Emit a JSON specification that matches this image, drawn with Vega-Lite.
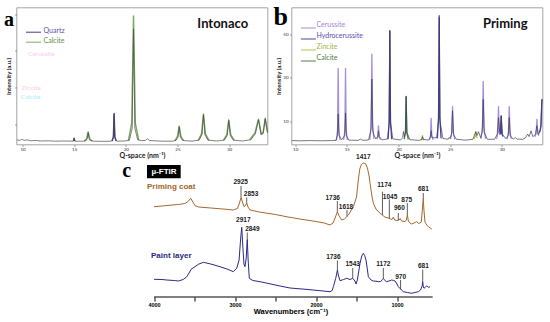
{
"$schema": "https://vega.github.io/schema/vega-lite/v6.json",
"background": "white",
"padding": {"left": 3.5, "top": 3.5, "right": 0, "bottom": 0},
"spacing": -5.5,
"config": {"view": {"stroke": null}, "font": "Lato"},
"resolve": {"scale": {"color": "independent", "x": "independent", "y": "independent"}, "legend": {"color": "independent"}},
"datasets": {
"xrdA": [
{"q":9.45,"i":1.8},{"q":9.7,"i":1.4},{"q":9.9,"i":1.9},{"q":10.2,"i":1.5},{"q":10.5,"i":1.7},{"q":10.8,"i":1.2},{"q":11.2,"i":1.4},{"q":11.8,"i":1.1},{"q":12.5,"i":1.2},{"q":13.2,"i":1.0},{"q":14.0,"i":1.1},{"q":14.9,"i":1.0},{"q":15.0,"i":2.5},{"q":15.1,"i":1.0},{"q":15.9,"i":1.0},{"q":16.16,"i":1.4},{"q":16.28,"i":2.5},{"q":16.36,"i":5.7},{"q":16.44,"i":2.5},{"q":16.56,"i":1.4},{"q":16.9,"i":1.0},{"q":17.8,"i":0.9},{"q":18.6,"i":1.0},{"q":18.8,"i":2.8},{"q":18.87,"i":15.6},{"q":18.94,"i":2.8},{"q":19.14,"i":1.0},{"q":19.9,"i":1.1},{"q":20.35,"i":1.5},{"q":20.62,"i":8},{"q":20.75,"i":62},{"q":20.88,"i":8},{"q":21.15,"i":1.8},{"q":21.5,"i":1.3},{"q":21.9,"i":1.4},{"q":22.1,"i":2.3},{"q":22.3,"i":1.4},{"q":22.8,"i":1.2},{"q":23.6,"i":1.0},{"q":24.5,"i":1.0},{"q":24.85,"i":1.4},{"q":25.06,"i":3.2},{"q":25.17,"i":8.8},{"q":25.28,"i":3.2},{"q":25.5,"i":1.4},{"q":26.4,"i":1.0},{"q":27.1,"i":1.6},{"q":27.38,"i":4.6},{"q":27.52,"i":15.3},{"q":27.66,"i":4.6},{"q":27.95,"i":1.6},{"q":28.8,"i":1.1},{"q":29.55,"i":1.6},{"q":29.83,"i":4.2},{"q":29.97,"i":12.2},{"q":30.11,"i":4.2},{"q":30.4,"i":1.6},{"q":31.3,"i":1.1},{"q":32.1,"i":1.8},{"q":32.55,"i":5},{"q":32.85,"i":12.6},{"q":33.1,"i":4.5},{"q":33.3,"i":5.2},{"q":33.5,"i":13.1},{"q":33.72,"i":5.5}
],
"phaseA": [
{"q":14.95,"i":1,"p":"Quartz","k":"q1"},{"q":15.0,"i":2.6,"p":"Quartz","k":"q1"},{"q":15.05,"i":1,"p":"Quartz","k":"q1"},
{"q":18.68,"i":1,"p":"Quartz","k":"q2"},{"q":18.8,"i":3.5,"p":"Quartz","k":"q2"},{"q":18.87,"i":16,"p":"Quartz","k":"q2"},{"q":18.94,"i":3.5,"p":"Quartz","k":"q2"},{"q":19.06,"i":1,"p":"Quartz","k":"q2"},
{"q":15.96,"i":1,"p":"Calcite","k":"c1"},{"q":16.2,"i":2.2,"p":"Calcite","k":"c1"},{"q":16.36,"i":6,"p":"Calcite","k":"c1"},{"q":16.52,"i":2.2,"p":"Calcite","k":"c1"},{"q":16.76,"i":1,"p":"Calcite","k":"c1"},
{"q":20.25,"i":1.3,"p":"Calcite","k":"c2"},{"q":20.58,"i":11,"p":"Calcite","k":"c2"},{"q":20.75,"i":69,"p":"Calcite","k":"c2"},{"q":20.92,"i":11,"p":"Calcite","k":"c2"},{"q":21.25,"i":1.6,"p":"Calcite","k":"c2"},
{"q":24.75,"i":1.2,"p":"Calcite","k":"c3"},{"q":25.0,"i":3.6,"p":"Calcite","k":"c3"},{"q":25.17,"i":9.2,"p":"Calcite","k":"c3"},{"q":25.34,"i":3.6,"p":"Calcite","k":"c3"},{"q":25.6,"i":1.3,"p":"Calcite","k":"c3"},
{"q":27.0,"i":1.4,"p":"Calcite","k":"c4"},{"q":27.33,"i":5,"p":"Calcite","k":"c4"},{"q":27.52,"i":15.8,"p":"Calcite","k":"c4"},{"q":27.71,"i":5,"p":"Calcite","k":"c4"},{"q":28.05,"i":1.4,"p":"Calcite","k":"c4"},
{"q":29.45,"i":1.4,"p":"Calcite","k":"c5"},{"q":29.78,"i":4.6,"p":"Calcite","k":"c5"},{"q":29.97,"i":12.6,"p":"Calcite","k":"c5"},{"q":30.16,"i":4.6,"p":"Calcite","k":"c5"},{"q":30.5,"i":1.4,"p":"Calcite","k":"c5"},
{"q":32.0,"i":1.8,"p":"Calcite","k":"c6"},{"q":32.5,"i":5.5,"p":"Calcite","k":"c6"},{"q":32.85,"i":13,"p":"Calcite","k":"c6"},{"q":33.12,"i":5,"p":"Calcite","k":"c6"},{"q":33.3,"i":5.6,"p":"Calcite","k":"c6"},{"q":33.5,"i":13.5,"p":"Calcite","k":"c6"},{"q":33.72,"i":6,"p":"Calcite","k":"c6"}
],
"ghostPink": [{"q":10.55,"i":48.6,"t":"Cerussite"},{"q":9.9,"i":30.1,"t":"Zincite"}],
"ghostCyan": [{"q":9.84,"i":25.2,"t":"Calcite"}],
"xrdB": [
{"q":9.7,"i":1.2},{"q":10.5,"i":1.1},{"q":11.5,"i":1.2},{"q":12.5,"i":1.1},{"q":13.5,"i":1.2},{"q":13.95,"i":1.3},{"q":14.08,"i":3.5},{"q":14.16,"i":13.4},{"q":14.24,"i":3.5},{"q":14.5,"i":1.6},{"q":14.79,"i":3.5},{"q":14.87,"i":13.9},{"q":14.95,"i":3.5},{"q":15.2,"i":1.4},{"q":16.1,"i":1.3},{"q":16.32,"i":1.9},{"q":16.55,"i":1.3},{"q":17.1,"i":1.5},{"q":17.33,"i":6},{"q":17.42,"i":29.5},{"q":17.51,"i":6},{"q":17.6,"i":4},{"q":17.8,"i":2},{"q":17.98,"i":3},{"q":18.06,"i":5.7},{"q":18.14,"i":3},{"q":18.4,"i":1.5},{"q":18.95,"i":2},{"q":19.08,"i":9},{"q":19.16,"i":51.7},{"q":19.24,"i":9},{"q":19.45,"i":2},{"q":20.2,"i":1.5},{"q":20.4,"i":2.5},{"q":20.48,"i":5.4},{"q":20.56,"i":3},{"q":20.66,"i":5},{"q":20.74,"i":21.5},{"q":20.82,"i":5},{"q":21.1,"i":1.6},{"q":22.0,"i":1.3},{"q":22.25,"i":1.8},{"q":22.32,"i":3},{"q":22.39,"i":1.8},{"q":22.9,"i":1.4},{"q":23.08,"i":2.5},{"q":23.16,"i":5.7},{"q":23.24,"i":2.5},{"q":23.7,"i":2.5},{"q":23.86,"i":10},{"q":23.94,"i":57.8},{"q":24.02,"i":10},{"q":24.3,"i":2.2},{"q":24.8,"i":1.8},{"q":24.9,"i":2.6},{"q":25.0,"i":2.2},{"q":25.13,"i":4},{"q":25.23,"i":14.9},{"q":25.33,"i":4},{"q":25.6,"i":1.8},{"q":26.5,"i":1.4},{"q":27.2,"i":1.8},{"q":27.48,"i":5.3},{"q":27.6,"i":3.5},{"q":27.74,"i":5.3},{"q":27.95,"i":2.5},{"q":28.1,"i":5},{"q":28.2,"i":20.2},{"q":28.3,"i":5},{"q":28.6,"i":1.8},{"q":29.3,"i":1.8},{"q":29.55,"i":4},{"q":29.68,"i":11.8},{"q":29.8,"i":5},{"q":29.94,"i":12.6},{"q":30.08,"i":4},{"q":30.4,"i":2},{"q":30.62,"i":3.5},{"q":30.72,"i":11.8},{"q":30.82,"i":3.5},{"q":31.1,"i":1.8},{"q":31.3,"i":2.6},{"q":31.5,"i":1.8},{"q":31.74,"i":1.9},{"q":32.0,"i":1.7},{"q":32.3,"i":2.5},{"q":32.5,"i":4.2},{"q":32.65,"i":3},{"q":32.83,"i":5.7},{"q":33.0,"i":3},{"q":33.25,"i":4},{"q":33.4,"i":8},{"q":33.55,"i":4},{"q":33.75,"i":6},{"q":33.88,"i":20},{"q":33.94,"i":20}
],
"phaseB": [
{"q":13.98,"i":1.3,"p":"Cerussite","k":"e1"},{"q":14.1,"i":6,"p":"Cerussite","k":"e1"},{"q":14.16,"i":34.4,"p":"Cerussite","k":"e1"},{"q":14.22,"i":6,"p":"Cerussite","k":"e1"},{"q":14.34,"i":1.4,"p":"Cerussite","k":"e1"},
{"q":14.69,"i":1.4,"p":"Cerussite","k":"e2"},{"q":14.81,"i":6,"p":"Cerussite","k":"e2"},{"q":14.87,"i":34.4,"p":"Cerussite","k":"e2"},{"q":14.93,"i":6,"p":"Cerussite","k":"e2"},{"q":15.05,"i":1.4,"p":"Cerussite","k":"e2"},
{"q":17.22,"i":1.5,"p":"Cerussite","k":"e3"},{"q":17.35,"i":8,"p":"Cerussite","k":"e3"},{"q":17.42,"i":40.9,"p":"Cerussite","k":"e3"},{"q":17.49,"i":8,"p":"Cerussite","k":"e3"},{"q":17.62,"i":2,"p":"Cerussite","k":"e3"},
{"q":17.9,"i":1.8,"p":"Cerussite","k":"e4"},{"q":18.0,"i":3,"p":"Cerussite","k":"e4"},{"q":18.06,"i":8,"p":"Cerussite","k":"e4"},{"q":18.12,"i":3,"p":"Cerussite","k":"e4"},{"q":18.25,"i":1.6,"p":"Cerussite","k":"e4"},
{"q":22.98,"i":1.5,"p":"Cerussite","k":"e5"},{"q":23.1,"i":3.5,"p":"Cerussite","k":"e5"},{"q":23.16,"i":11.4,"p":"Cerussite","k":"e5"},{"q":23.22,"i":3.5,"p":"Cerussite","k":"e5"},{"q":23.35,"i":1.5,"p":"Cerussite","k":"e5"},
{"q":25.03,"i":2,"p":"Cerussite","k":"e6"},{"q":25.16,"i":5,"p":"Cerussite","k":"e6"},{"q":25.23,"i":16.8,"p":"Cerussite","k":"e6"},{"q":25.3,"i":5,"p":"Cerussite","k":"e6"},{"q":25.45,"i":1.8,"p":"Cerussite","k":"e6"},
{"q":27.98,"i":2,"p":"Cerussite","k":"e7"},{"q":28.13,"i":7,"p":"Cerussite","k":"e7"},{"q":28.2,"i":28.4,"p":"Cerussite","k":"e7"},{"q":28.27,"i":7,"p":"Cerussite","k":"e7"},{"q":28.42,"i":2,"p":"Cerussite","k":"e7"},
{"q":29.5,"i":2,"p":"Cerussite","k":"e8"},{"q":29.62,"i":5,"p":"Cerussite","k":"e8"},{"q":29.68,"i":16.8,"p":"Cerussite","k":"e8"},{"q":29.74,"i":5,"p":"Cerussite","k":"e8"},{"q":29.86,"i":4,"p":"Cerussite","k":"e8"},
{"q":30.52,"i":2,"p":"Cerussite","k":"e9"},{"q":30.65,"i":5,"p":"Cerussite","k":"e9"},{"q":30.72,"i":16.8,"p":"Cerussite","k":"e9"},{"q":30.79,"i":5,"p":"Cerussite","k":"e9"},{"q":30.92,"i":2,"p":"Cerussite","k":"e9"},
{"q":33.2,"i":3,"p":"Cerussite","k":"e10"},{"q":33.33,"i":4.5,"p":"Cerussite","k":"e10"},{"q":33.4,"i":11,"p":"Cerussite","k":"e10"},{"q":33.47,"i":4.5,"p":"Cerussite","k":"e10"},{"q":33.6,"i":3.5,"p":"Cerussite","k":"e10"},
{"q":18.98,"i":1.8,"p":"Hydrocerussite","k":"h1"},{"q":19.1,"i":10,"p":"Hydrocerussite","k":"h1"},{"q":19.16,"i":51.7,"p":"Hydrocerussite","k":"h1"},{"q":19.22,"i":10,"p":"Hydrocerussite","k":"h1"},{"q":19.34,"i":1.8,"p":"Hydrocerussite","k":"h1"},
{"q":23.76,"i":2.2,"p":"Hydrocerussite","k":"h2"},{"q":23.88,"i":12,"p":"Hydrocerussite","k":"h2"},{"q":23.94,"i":58.6,"p":"Hydrocerussite","k":"h2"},{"q":24.0,"i":12,"p":"Hydrocerussite","k":"h2"},{"q":24.12,"i":2.2,"p":"Hydrocerussite","k":"h2"},
{"q":29.78,"i":4,"p":"Hydrocerussite","k":"h3"},{"q":29.88,"i":4.5,"p":"Hydrocerussite","k":"h3"},{"q":29.94,"i":12.6,"p":"Hydrocerussite","k":"h3"},{"q":30.0,"i":4.5,"p":"Hydrocerussite","k":"h3"},{"q":30.1,"i":3,"p":"Hydrocerussite","k":"h3"},
{"q":33.65,"i":5,"p":"Hydrocerussite","k":"h4"},{"q":33.8,"i":8,"p":"Hydrocerussite","k":"h4"},{"q":33.88,"i":20,"p":"Hydrocerussite","k":"h4"},{"q":33.94,"i":20,"p":"Hydrocerussite","k":"h4"},
{"q":22.15,"i":1.3,"p":"Zincite","k":"z1"},{"q":22.27,"i":1.8,"p":"Zincite","k":"z1"},{"q":22.32,"i":3.5,"p":"Zincite","k":"z1"},{"q":22.37,"i":1.8,"p":"Zincite","k":"z1"},{"q":22.5,"i":1.3,"p":"Zincite","k":"z1"},
{"q":27.3,"i":1.8,"p":"Zincite","k":"z2"},{"q":27.42,"i":3,"p":"Zincite","k":"z2"},{"q":27.48,"i":5.3,"p":"Zincite","k":"z2"},{"q":27.54,"i":3,"p":"Zincite","k":"z2"},{"q":27.66,"i":2.5,"p":"Zincite","k":"z2"},
{"q":20.55,"i":1.8,"p":"Calcite","k":"k1"},{"q":20.68,"i":5,"p":"Calcite","k":"k1"},{"q":20.74,"i":21.5,"p":"Calcite","k":"k1"},{"q":20.8,"i":5,"p":"Calcite","k":"k1"},{"q":20.95,"i":1.7,"p":"Calcite","k":"k1"}
],
"ftir": [
{"wn":4000,"ab":93.3,"s":"Priming coat"},{"wn":3900,"ab":94,"s":"Priming coat"},{"wn":3800,"ab":94.8,"s":"Priming coat"},{"wn":3700,"ab":95.5,"s":"Priming coat"},{"wn":3620,"ab":96.5,"s":"Priming coat"},{"wn":3580,"ab":98.5,"s":"Priming coat"},{"wn":3547,"ab":101.7,"s":"Priming coat"},{"wn":3520,"ab":98,"s":"Priming coat"},{"wn":3494,"ab":94.3,"s":"Priming coat"},{"wn":3450,"ab":93,"s":"Priming coat"},{"wn":3300,"ab":92,"s":"Priming coat"},{"wn":3150,"ab":91,"s":"Priming coat"},{"wn":3021,"ab":90,"s":"Priming coat"},{"wn":2970,"ab":91.5,"s":"Priming coat"},{"wn":2945,"ab":97,"s":"Priming coat"},{"wn":2926,"ab":102.7,"s":"Priming coat"},{"wn":2905,"ab":97,"s":"Priming coat"},{"wn":2889,"ab":93.3,"s":"Priming coat"},{"wn":2870,"ab":94.5,"s":"Priming coat"},{"wn":2856,"ab":97.3,"s":"Priming coat"},{"wn":2840,"ab":93,"s":"Priming coat"},{"wn":2815,"ab":90,"s":"Priming coat"},{"wn":2700,"ab":88,"s":"Priming coat"},{"wn":2500,"ab":85.5,"s":"Priming coat"},{"wn":2346,"ab":83,"s":"Priming coat"},{"wn":2200,"ab":81,"s":"Priming coat"},{"wn":2000,"ab":78.5,"s":"Priming coat"},{"wn":1900,"ab":77,"s":"Priming coat"},{"wn":1827,"ab":75,"s":"Priming coat"},{"wn":1790,"ab":77,"s":"Priming coat"},{"wn":1760,"ab":83,"s":"Priming coat"},{"wn":1737,"ab":88.3,"s":"Priming coat"},{"wn":1715,"ab":84,"s":"Priming coat"},{"wn":1683,"ab":80,"s":"Priming coat"},{"wn":1650,"ab":81,"s":"Priming coat"},{"wn":1621,"ab":83.3,"s":"Priming coat"},{"wn":1600,"ab":85,"s":"Priming coat"},{"wn":1539,"ab":93.3,"s":"Priming coat"},{"wn":1500,"ab":103,"s":"Priming coat"},{"wn":1478,"ab":120,"s":"Priming coat"},{"wn":1460,"ab":131,"s":"Priming coat"},{"wn":1440,"ab":135.5,"s":"Priming coat"},{"wn":1417,"ab":137,"s":"Priming coat"},{"wn":1390,"ab":136.5,"s":"Priming coat"},{"wn":1365,"ab":132,"s":"Priming coat"},{"wn":1345,"ab":124,"s":"Priming coat"},{"wn":1333,"ab":116.7,"s":"Priming coat"},{"wn":1310,"ab":104,"s":"Priming coat"},{"wn":1292,"ab":96.7,"s":"Priming coat"},{"wn":1260,"ab":91,"s":"Priming coat"},{"wn":1230,"ab":88.3,"s":"Priming coat"},{"wn":1190,"ab":85.5,"s":"Priming coat"},{"wn":1174,"ab":84.5,"s":"Priming coat"},{"wn":1150,"ab":83,"s":"Priming coat"},{"wn":1110,"ab":82,"s":"Priming coat"},{"wn":1080,"ab":81,"s":"Priming coat"},{"wn":1060,"ab":80.7,"s":"Priming coat"},{"wn":1045,"ab":83,"s":"Priming coat"},{"wn":1030,"ab":80,"s":"Priming coat"},{"wn":1000,"ab":79.5,"s":"Priming coat"},{"wn":975,"ab":80,"s":"Priming coat"},{"wn":960,"ab":81.5,"s":"Priming coat"},{"wn":945,"ab":79,"s":"Priming coat"},{"wn":900,"ab":78.5,"s":"Priming coat"},{"wn":885,"ab":80,"s":"Priming coat"},{"wn":872,"ab":85,"s":"Priming coat"},{"wn":860,"ab":79,"s":"Priming coat"},{"wn":840,"ab":77,"s":"Priming coat"},{"wn":822,"ab":76,"s":"Priming coat"},{"wn":790,"ab":77,"s":"Priming coat"},{"wn":757,"ab":78.3,"s":"Priming coat"},{"wn":730,"ab":76.5,"s":"Priming coat"},{"wn":700,"ab":78,"s":"Priming coat"},{"wn":688,"ab":90,"s":"Priming coat"},{"wn":676,"ab":101.7,"s":"Priming coat"},{"wn":668,"ab":90,"s":"Priming coat"},{"wn":655,"ab":78,"s":"Priming coat"},{"wn":633,"ab":75,"s":"Priming coat"},{"wn":610,"ab":73,"s":"Priming coat"},{"wn":584,"ab":71.7,"s":"Priming coat"},{"wn":570,"ab":71,"s":"Priming coat"},
{"wn":4000,"ab":20.7,"s":"Paint layer"},{"wn":3900,"ab":20.5,"s":"Paint layer"},{"wn":3843,"ab":20,"s":"Paint layer"},{"wn":3750,"ab":19.5,"s":"Paint layer"},{"wn":3700,"ab":19,"s":"Paint layer"},{"wn":3640,"ab":20.5,"s":"Paint layer"},{"wn":3596,"ab":23.3,"s":"Paint layer"},{"wn":3560,"ab":28,"s":"Paint layer"},{"wn":3543,"ab":30.7,"s":"Paint layer"},{"wn":3506,"ab":32.7,"s":"Paint layer"},{"wn":3453,"ab":35.7,"s":"Paint layer"},{"wn":3391,"ab":37.7,"s":"Paint layer"},{"wn":3300,"ab":36,"s":"Paint layer"},{"wn":3185,"ab":33.3,"s":"Paint layer"},{"wn":3100,"ab":31,"s":"Paint layer"},{"wn":3021,"ab":28.3,"s":"Paint layer"},{"wn":2979,"ab":31.7,"s":"Paint layer"},{"wn":2950,"ab":40,"s":"Paint layer"},{"wn":2930,"ab":62,"s":"Paint layer"},{"wn":2917,"ab":72.7,"s":"Paint layer"},{"wn":2905,"ab":55,"s":"Paint layer"},{"wn":2890,"ab":36,"s":"Paint layer"},{"wn":2877,"ab":33.3,"s":"Paint layer"},{"wn":2862,"ab":42,"s":"Paint layer"},{"wn":2849,"ab":60.7,"s":"Paint layer"},{"wn":2838,"ab":40,"s":"Paint layer"},{"wn":2824,"ab":21.7,"s":"Paint layer"},{"wn":2780,"ab":19.5,"s":"Paint layer"},{"wn":2691,"ab":18.3,"s":"Paint layer"},{"wn":2444,"ab":14,"s":"Paint layer"},{"wn":2321,"ab":12,"s":"Paint layer"},{"wn":2100,"ab":10.5,"s":"Paint layer"},{"wn":1950,"ab":9.3,"s":"Paint layer"},{"wn":1827,"ab":8.3,"s":"Paint layer"},{"wn":1800,"ab":9.5,"s":"Paint layer"},{"wn":1786,"ab":13.3,"s":"Paint layer"},{"wn":1757,"ab":21.7,"s":"Paint layer"},{"wn":1745,"ab":26,"s":"Paint layer"},{"wn":1736,"ab":30,"s":"Paint layer"},{"wn":1725,"ab":25,"s":"Paint layer"},{"wn":1704,"ab":19.3,"s":"Paint layer"},{"wn":1660,"ab":20.5,"s":"Paint layer"},{"wn":1621,"ab":21.7,"s":"Paint layer"},{"wn":1580,"ab":20.5,"s":"Paint layer"},{"wn":1547,"ab":21.7,"s":"Paint layer"},{"wn":1520,"ab":19,"s":"Paint layer"},{"wn":1506,"ab":16,"s":"Paint layer"},{"wn":1490,"ab":20,"s":"Paint layer"},{"wn":1470,"ab":30,"s":"Paint layer"},{"wn":1457,"ab":36.7,"s":"Paint layer"},{"wn":1435,"ab":44,"s":"Paint layer"},{"wn":1416,"ab":46.7,"s":"Paint layer"},{"wn":1400,"ab":44.5,"s":"Paint layer"},{"wn":1383,"ab":40,"s":"Paint layer"},{"wn":1365,"ab":30,"s":"Paint layer"},{"wn":1354,"ab":23.3,"s":"Paint layer"},{"wn":1320,"ab":20,"s":"Paint layer"},{"wn":1292,"ab":19,"s":"Paint layer"},{"wn":1260,"ab":18.8,"s":"Paint layer"},{"wn":1230,"ab":18.3,"s":"Paint layer"},{"wn":1200,"ab":18.5,"s":"Paint layer"},{"wn":1180,"ab":20.5,"s":"Paint layer"},{"wn":1169,"ab":21.7,"s":"Paint layer"},{"wn":1150,"ab":19.5,"s":"Paint layer"},{"wn":1128,"ab":18.3,"s":"Paint layer"},{"wn":1100,"ab":19,"s":"Paint layer"},{"wn":1066,"ab":20,"s":"Paint layer"},{"wn":1040,"ab":19.5,"s":"Paint layer"},{"wn":1025,"ab":19,"s":"Paint layer"},{"wn":1000,"ab":16,"s":"Paint layer"},{"wn":984,"ab":13.3,"s":"Paint layer"},{"wn":950,"ab":10.5,"s":"Paint layer"},{"wn":922,"ab":8.3,"s":"Paint layer"},{"wn":870,"ab":7.5,"s":"Paint layer"},{"wn":819,"ab":6.7,"s":"Paint layer"},{"wn":780,"ab":7.5,"s":"Paint layer"},{"wn":737,"ab":8.3,"s":"Paint layer"},{"wn":710,"ab":10,"s":"Paint layer"},{"wn":690,"ab":14,"s":"Paint layer"},{"wn":683,"ab":18.3,"s":"Paint layer"},{"wn":675,"ab":13,"s":"Paint layer"},{"wn":667,"ab":11.7,"s":"Paint layer"},{"wn":650,"ab":13,"s":"Paint layer"},{"wn":633,"ab":14,"s":"Paint layer"},{"wn":612,"ab":12.7,"s":"Paint layer"},{"wn":592,"ab":13.3,"s":"Paint layer"}
],
"ticks": [
{"wn":2926,"ab":114,"ab2":103},{"wn":2856,"ab":102.5,"ab2":97.5},{"wn":1737,"ab":99,"ab2":88.5},{"wn":1618,"ab":90,"ab2":83.5},{"wn":1180,"ab":108.3,"ab2":85},{"wn":1095,"ab":100.7,"ab2":81.7},{"wn":984,"ab":87,"ab2":80},{"wn":873,"ab":97,"ab2":85},{"wn":676,"ab":107,"ab2":101.7},
{"wn":2849,"ab":67.5,"ab2":61},{"wn":1736,"ab":39.5,"ab2":30},{"wn":1547,"ab":32,"ab2":22},{"wn":1169,"ab":32,"ab2":22},{"wn":956,"ab":20,"ab2":10.5},{"wn":683,"ab":30.5,"ab2":18.3}
],
"peaklabels": [
{"wn":2930,"ab":117.7,"t":"2925"},{"wn":2802,"ab":105.7,"t":"2853"},{"wn":1794,"ab":101.7,"t":"1736"},{"wn":1630,"ab":92.7,"t":"1618"},{"wn":1416,"ab":142.7,"t":"1417"},{"wn":1157,"ab":115,"t":"1174"},{"wn":1086,"ab":103.3,"t":"1045"},{"wn":971,"ab":91.7,"t":"960"},{"wn":880,"ab":100,"t":"875"},{"wn":675,"ab":111,"t":"681"},
{"wn":2898,"ab":80,"t":"2917"},{"wn":2786,"ab":70.7,"t":"2849"},{"wn":1786,"ab":42.7,"t":"1736"},{"wn":1547,"ab":35.7,"t":"1543"},{"wn":1169,"ab":35.7,"t":"1172"},{"wn":956,"ab":23.3,"t":"970"},{"wn":675,"ab":34,"t":"681"}
]
},
"vconcat": [
{
"hconcat": [
{
"width": 251, "height": 137,
"view": {"stroke": "#8c8c8c", "strokeWidth": 0.8},
"layer": [
{"data": {"name": "phaseA"}, "mark": {"type": "line", "strokeWidth": 1.4, "strokeJoin": "round"},
 "encoding": {
  "x": {"field": "q", "type": "quantitative", "scale": {"domain": [9.42, 33.72], "nice": false, "zero": false},
   "axis": {"values": [10,15,20,25,30], "domain": false, "grid": false, "tickSize": 2, "tickColor": "#666", "tickWidth": 0.6, "labelFont": "Lato", "labelFontSize": 4.5, "labelColor": "#333", "labelPadding": 0, "title": "Q-space (nm⁻¹)", "titleFont": "Lato", "titleFontSize": 7, "titleFontWeight": "bold", "titleColor": "#222", "titlePadding": 0.5}},
  "y": {"field": "i", "type": "quantitative", "scale": {"domain": [-0.8, 73.6], "nice": false, "zero": false},
   "axis": {"values": [10,20,30,40,50,60,70], "labelExpr": "datum.value % 20 === 0 ? datum.label : ''", "domain": false, "grid": false, "tickSize": 2, "tickColor": "#666", "tickWidth": 0.6, "labelFont": "Lato", "labelFontSize": 4.5, "labelColor": "#333", "labelPadding": 1.5, "title": "Intensity (a.u.)", "titleFont": "Lato", "titleFontSize": 6, "titleFontWeight": "bold", "titleColor": "#222", "titlePadding": 1.5}},
  "detail": {"field": "k"},
  "color": {"field": "p", "type": "nominal", "scale": {"domain": ["Quartz", "Calcite"], "range": ["#3f3b90", "#7aa862"]},
  "legend": {"orient": "none", "legendX": 9, "legendY": 14.5, "title": null, "padding": 3, "symbolType": "M-1.6,0.34H1.4", "symbolSize": 100, "symbolStrokeWidth": 1, "labelFont": "Lato", "labelFontSize": 7, "labelOffset": 4, "rowPadding": 0, "labelLimit": 200,
   "encode": {"labels": {"update": {"fill": {"signal": "datum.value === 'Quartz' ? '#5b50a8' : '#5f9048'"}}}}}}}},
{"data": {"name": "xrdA"}, "mark": {"type": "line", "color": "#4a4a4a", "strokeWidth": 0.7}, "encoding": {"x": {"field": "q", "type": "quantitative"}, "y": {"field": "i", "type": "quantitative"}}},
{"data": {"name": "ghostPink"}, "mark": {"type": "text", "align": "left", "baseline": "middle", "font": "Lato", "fontSize": 6.5, "color": "#f6cdee"}, "encoding": {"x": {"field": "q", "type": "quantitative"}, "y": {"field": "i", "type": "quantitative"}, "text": {"field": "t"}}},
{"data": {"name": "ghostCyan"}, "mark": {"type": "text", "align": "left", "baseline": "middle", "font": "Lato", "fontSize": 6.5, "color": "#a6eef6"}, "encoding": {"x": {"field": "q", "type": "quantitative"}, "y": {"field": "i", "type": "quantitative"}, "text": {"field": "t"}}},
{"data": {"values": [{}]}, "mark": {"type": "text", "text": "Intonaco", "align": "right", "baseline": "alphabetic", "font": "Lato", "fontWeight": "bold", "fontSize": 13, "color": "#111"}, "encoding": {"x": {"datum": 31.85, "type": "quantitative"}, "y": {"datum": 62.7, "type": "quantitative"}}},
{"data": {"values": [{}]}, "mark": {"type": "text", "text": "a", "align": "center", "baseline": "alphabetic", "font": "Liberation Serif", "fontWeight": "bold", "fontSize": 20, "color": "#000"}, "encoding": {"x": {"datum": 8.69, "type": "quantitative"}, "y": {"datum": 63.8, "type": "quantitative"}}}
]
},
{
"width": 251, "height": 137,
"view": {"stroke": "#8c8c8c", "strokeWidth": 0.8},
"layer": [
{"data": {"name": "phaseB"}, "mark": {"type": "line", "strokeWidth": 1.3, "strokeJoin": "round"},
 "encoding": {
  "x": {"field": "q", "type": "quantitative", "scale": {"domain": [9.64, 33.94], "nice": false, "zero": false},
   "axis": {"values": [10,15,20,25,30], "domain": false, "grid": false, "tickSize": 2, "tickColor": "#666", "tickWidth": 0.6, "labelFont": "Lato", "labelFontSize": 4.5, "labelColor": "#333", "labelPadding": 0, "title": "Q-space (nm⁻¹)", "titleFont": "Lato", "titleFontSize": 7, "titleFontWeight": "bold", "titleColor": "#222", "titlePadding": 0.5}},
  "y": {"field": "i", "type": "quantitative", "scale": {"domain": [-0.6, 62.4], "nice": false, "zero": false},
   "axis": {"values": [10,20,30,40,50,60], "labelExpr": "datum.value <= 50 ? datum.label : ''", "domain": false, "grid": false, "tickSize": 2, "tickColor": "#666", "tickWidth": 0.6, "labelFont": "Lato", "labelFontSize": 4.5, "labelColor": "#333", "labelPadding": 1.5, "title": "Intensity (a.u.)", "titleFont": "Lato", "titleFontSize": 6, "titleFontWeight": "bold", "titleColor": "#222", "titlePadding": 1.5}},
  "detail": {"field": "k"},
  "color": {"field": "p", "type": "nominal", "scale": {"domain": ["Cerussite", "Hydrocerussite", "Zincite", "Calcite"], "range": ["#a48ddc", "#4c44a4", "#b8c24e", "#4f8442"]},
  "legend": {"orient": "none", "legendX": 9.5, "legendY": 9.5, "title": null, "padding": 3, "symbolType": "M-1.8,0.67H1.53", "symbolSize": 81, "symbolStrokeWidth": 1, "labelFont": "Lato", "labelFontSize": 7, "labelOffset": 2.5, "rowPadding": 0, "labelLimit": 200,
   "encode": {"labels": {"update": {"fill": {"signal": "datum.value === 'Cerussite' ? '#a47fd8' : datum.value === 'Hydrocerussite' ? '#5b4cb0' : datum.value === 'Zincite' ? '#a3b545' : '#4f7f3f'"}}}}}}}},
{"data": {"name": "xrdB"}, "mark": {"type": "line", "color": "#3c3c5c", "strokeWidth": 0.7}, "encoding": {"x": {"field": "q", "type": "quantitative"}, "y": {"field": "i", "type": "quantitative"}}},
{"data": {"values": [{}]}, "mark": {"type": "text", "text": "Priming", "align": "right", "baseline": "alphabetic", "font": "Lato", "fontWeight": "bold", "fontSize": 13, "color": "#111"}, "encoding": {"x": {"datum": 32.49, "type": "quantitative"}, "y": {"datum": 53.2, "type": "quantitative"}}},
{"data": {"values": [{}]}, "mark": {"type": "text", "text": "b", "align": "center", "baseline": "alphabetic", "font": "Liberation Serif", "fontWeight": "bold", "fontSize": 26, "color": "#000"}, "encoding": {"x": {"datum": 8.6, "type": "quantitative"}, "y": {"datum": 54.3, "type": "quantitative"}}}
]
}
],
"spacing": 24,
"bounds": "flush",
"resolve": {"scale": {"color": "independent", "x": "independent", "y": "independent"}, "legend": {"color": "independent"}}
},
{
"width": 526, "height": 137,
"view": {"stroke": null},
"layer": [
{"data": {"name": "ftir"}, "mark": {"type": "line", "strokeWidth": 1, "strokeJoin": "round"},
 "encoding": {
  "x": {"field": "wn", "type": "quantitative", "scale": {"domain": [-796, 5698], "reverse": true, "nice": false, "zero": false},
   "axis": {"values": [4000,3500,3000,2500,2000,1500,1000], "format": "d", "labelExpr": "datum.value % 1000 === 0 ? datum.label : ''", "domain": false, "grid": false, "tickSize": 4, "tickColor": "#000", "tickWidth": 1, "labelFont": "Liberation Sans", "labelFontWeight": "bold", "labelFontSize": 5.5, "labelColor": "#000", "labelPadding": 1.5, "title": "Wavenumbers (cm⁻¹)", "titleFont": "Liberation Sans", "titleFontWeight": "bold", "titleFontSize": 7.5, "titleColor": "#000", "titlePadding": -0.5, "titleX": 274}},
  "y": {"field": "ab", "type": "quantitative", "scale": {"domain": [3, 140], "nice": false, "zero": false}, "axis": null},
  "color": {"field": "s", "type": "nominal", "scale": {"domain": ["Priming coat", "Paint layer"], "range": ["#a4692f", "#2a2a86"]}, "legend": null}}},
{"data": {"name": "ticks"}, "mark": {"type": "rule", "color": "#333", "strokeWidth": 0.8}, "encoding": {"x": {"field": "wn", "type": "quantitative"}, "y": {"field": "ab", "type": "quantitative"}, "y2": {"field": "ab2"}}},
{"data": {"name": "peaklabels"}, "mark": {"type": "text", "font": "Liberation Sans", "fontWeight": "bold", "fontSize": 6.5, "color": "#1a1a1a", "baseline": "middle"}, "encoding": {"x": {"field": "wn", "type": "quantitative"}, "y": {"field": "ab", "type": "quantitative"}, "text": {"field": "t"}}},
{"data": {"values": [{}]}, "mark": {"type": "rule", "color": "#000", "strokeWidth": 1}, "encoding": {"x": {"datum": 4000, "type": "quantitative"}, "x2": {"datum": 560}, "y": {"datum": 3, "type": "quantitative"}}},
{"data": {"values": [{}]}, "mark": {"type": "text", "text": "Priming coat", "align": "left", "baseline": "middle", "font": "Liberation Sans", "fontWeight": "bold", "fontSize": 8, "color": "#a5652a"}, "encoding": {"x": {"datum": 4087, "type": "quantitative"}, "y": {"datum": 113, "type": "quantitative"}}},
{"data": {"values": [{}]}, "mark": {"type": "text", "text": "Paint layer", "align": "left", "baseline": "middle", "font": "Liberation Sans", "fontWeight": "bold", "fontSize": 8, "color": "#2a2a80"}, "encoding": {"x": {"datum": 4037, "type": "quantitative"}, "y": {"datum": 44, "type": "quantitative"}}},
{"data": {"values": [{}]}, "mark": {"type": "text", "text": "c", "align": "center", "baseline": "alphabetic", "font": "Liberation Serif", "fontWeight": "bold", "fontSize": 20, "color": "#000"}, "encoding": {"x": {"datum": 4337, "type": "quantitative"}, "y": {"datum": 123.5, "type": "quantitative"}}},
{"data": {"values": [{}]}, "mark": {"type": "rect", "color": "#000"}, "encoding": {"x": {"datum": 4087, "type": "quantitative"}, "x2": {"datum": 3671}, "y": {"datum": 135, "type": "quantitative"}, "y2": {"datum": 121.7}}},
{"data": {"values": [{}]}, "mark": {"type": "text", "text": "µ-FTIR", "align": "center", "baseline": "middle", "font": "Liberation Sans", "fontWeight": "bold", "fontSize": 8, "color": "#fff"}, "encoding": {"x": {"datum": 3877, "type": "quantitative"}, "y": {"datum": 128.3, "type": "quantitative"}}}
]
}
]
}
